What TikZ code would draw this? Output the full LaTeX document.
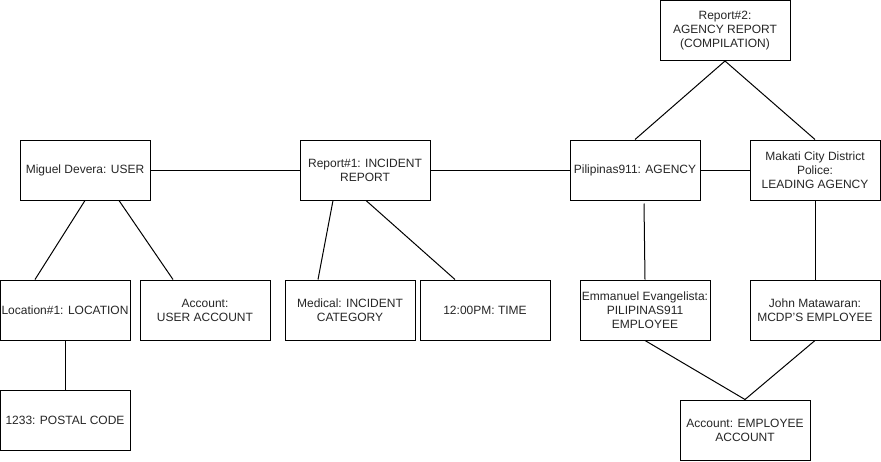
\documentclass[tikz,border=0pt]{standalone}
\usepackage{fontspec}
\setmainfont{Liberation Sans}
\usetikzlibrary{calc}
\begin{document}
\begin{tikzpicture}[x=1pt,y=-1pt,
  ent/.style={draw=black,line width=1pt,fill=white,minimum width=130pt,minimum height=60pt,
    inner sep=0pt,align=center,font=\fontsize{12}{14}\selectfont,text=black!85},
  link/.style={draw=black,line width=1pt}]
\useasboundingbox (0,0) rectangle (881,461);
\node[ent] (miguel) at (85,170) {Miguel Devera: USER};
\node[ent] (rep1) at (365,170) {Report\#1: INCIDENT\\REPORT};
\node[ent] (pil) at (635,170) {Pilipinas911: AGENCY};
\node[ent] (mak) at (815,170) {Makati City District\\Police:\\LEADING AGENCY};
\node[ent] (rep2) at (725,30.5) {Report\#2:\\AGENCY REPORT\\ (COMPILATION)};
\node[ent] (loc) at (65,310) {Location\#1: LOCATION};
\node[ent] (acc) at (205,310) {Account:\\USER ACCOUNT};
\node[ent] (med) at (350,310) {Medical: INCIDENT\\CATEGORY};
\node[ent] (time) at (485,310) {12:00PM: TIME};
\node[ent] (postal) at (65,420) {1233: POSTAL CODE};
\node[ent] (emm) at (645,310) {Emmanuel Evangelista:\\PILIPINAS911\\EMPLOYEE};
\node[ent] (john) at (815,310) {John Matawaran:\\MCDP'S EMPLOYEE};
\node[ent] (empacc) at (745,430) {Account: EMPLOYEE\\ACCOUNT};
\draw[link] (miguel.east) -- (rep1.west);
\draw[link] (rep1.east) -- (pil.west);
\draw[link] (pil.east) -- (mak.west);
\draw[link] (miguel.south) -- ([xshift=-30pt]loc.north);
\draw[link] ([xshift=34pt]miguel.south) -- ([xshift=-32pt]acc.north);
\draw[link] ([xshift=-32pt]rep1.south) -- ([xshift=-32pt]med.north);
\draw[link] ([xshift=1pt]rep1.south) -- ([xshift=-30pt]time.north);
\draw[link] (loc.south) -- (postal.north);
\draw[link] (rep2.south) -- (pil.north);
\draw[link] (rep2.south) -- (mak.north);
\draw[link] ([xshift=9pt,yshift=-3pt]pil.south) -- (emm.north);
\draw[link] (mak.south) -- (john.north);
\draw[link] (emm.south) -- (empacc.north);
\draw[link] (john.south) -- (empacc.north);
\end{tikzpicture}
\end{document}
